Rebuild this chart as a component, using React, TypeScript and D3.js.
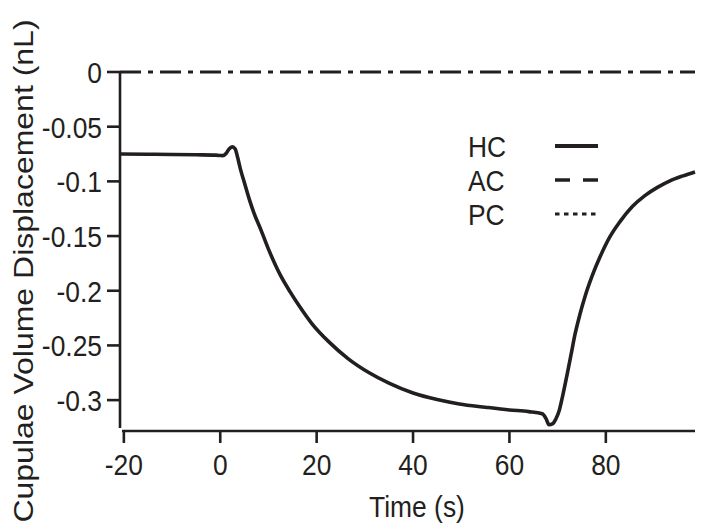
import React from "react";
import * as d3 from "d3";

const hcTime = [-20.8, -15, -10, -5, -1, 0, 0.5, 1.2, 1.8, 2.5, 3.1, 3.6, 4.2, 5, 6, 7, 8.5, 10.2, 12.5, 14.5, 16.4, 19, 22.6, 26.5, 30.9, 35, 40, 45, 49.6, 55, 60, 64, 66.8, 67.6, 68.2, 69.0, 69.6, 70.3, 71.0, 71.9, 72.8, 73.6, 74.6, 75.7, 77.2, 78.8, 80.8, 82.9, 85.5, 88.1, 90.7, 93.3, 96, 98.5];
const hcValue = [-0.075, -0.0752, -0.0754, -0.0757, -0.076, -0.0763, -0.0765, -0.0745, -0.0705, -0.0685, -0.0705, -0.078, -0.089, -0.101, -0.116, -0.129, -0.145, -0.164, -0.186, -0.201, -0.214, -0.23, -0.247, -0.262, -0.275, -0.2845, -0.2935, -0.2995, -0.3035, -0.3065, -0.309, -0.3105, -0.3125, -0.317, -0.3225, -0.3215, -0.3175, -0.31, -0.297, -0.278, -0.258, -0.24, -0.222, -0.205, -0.186, -0.169, -0.151, -0.137, -0.123, -0.113, -0.1055, -0.0995, -0.095, -0.0914];

const acTime = [-20.8, 98.5];
const acValue = [0, 0];
const pcTime = [-20.8, 98.5];
const pcValue = [0, 0];

const xTicks = [-20, 0, 20, 40, 60, 80];
const xTickLabels = ["-20", "0", "20", "40", "60", "80"];
const yTicks = [0, -0.05, -0.1, -0.15, -0.2, -0.25, -0.3];
const yTickLabels = ["0", "-0.05", "-0.1", "-0.15", "-0.2", "-0.25", "-0.3"];

const legendLabels = ["HC", "AC", "PC"];

const INK = "#231f20";
const FONT = "'Liberation Sans', Arial, Helvetica, sans-serif";

export default function App() {
  const x = d3.scaleLinear().domain([-20.8, 98.5]).range([120, 695]);
  const y = d3.scaleLinear().domain([-0.3255, 0]).range([428, 72]);

  const line = d3
    .line<[number, number]>()
    .x((d) => x(d[0]))
    .y((d) => y(d[1]))
    .curve(d3.curveMonotoneX);

  const hcData: [number, number][] = hcTime.map((t, i) => [t, hcValue[i]]);
  const acData: [number, number][] = acTime.map((t, i) => [t, acValue[i]]);
  const pcData: [number, number][] = pcTime.map((t, i) => [t, pcValue[i]]);

  const xAxisY = 431;
  const legendStyles = [
    { dash: "none", width: 4 },
    { dash: "15,13", width: 3.5 },
    { dash: "4.5,4.5", width: 3 },
  ];
  const legendBase = [157, 191, 225];

  return (
    <svg
      width={705}
      height={530}
      style={{ position: "fixed", left: 0, top: 0, background: "#fff" }}
      fontFamily={FONT}
    >
      <rect x={0} y={0} width={705} height={530} fill="#fff" />
      {/* zero line: AC and PC overlap */}
      <path d={line(acData) || ""} fill="none" stroke={INK} strokeWidth={3} strokeDasharray="21,7,5,7" />
      <path d={line(pcData) || ""} fill="none" stroke="none" />
      {/* HC curve */}
      <path d={line(hcData) || ""} fill="none" stroke={INK} strokeWidth={3.6} strokeLinejoin="round" />

      {/* Y axis */}
      <line x1={120} x2={120} y1={y(0) - 1} y2={y(-0.3255)} stroke={INK} strokeWidth={2.6} />
      {yTicks.map((v, i) => (
        <g key={"yt" + i}>
          <line x1={107} x2={120} y1={y(v)} y2={y(v)} stroke={INK} strokeWidth={2.6} />
          <text
            transform={`translate(102,${y(v) + 11}) scale(0.88,1)`}
            textAnchor="end"
            fontSize={30}
            fill={INK}
          >
            {yTickLabels[i]}
          </text>
        </g>
      ))}

      {/* X axis */}
      <line x1={122} x2={695} y1={xAxisY} y2={xAxisY} stroke={INK} strokeWidth={2.6} />
      {xTicks.map((v, i) => (
        <g key={"xt" + i}>
          <line x1={x(v)} x2={x(v)} y1={xAxisY} y2={xAxisY + 12} stroke={INK} strokeWidth={2.6} />
          <text
            transform={`translate(${x(v)},475) scale(0.88,1)`}
            textAnchor="middle"
            fontSize={30}
            fill={INK}
          >
            {xTickLabels[i]}
          </text>
        </g>
      ))}

      {/* Axis titles */}
      <text transform="translate(417,517) scale(0.88,1)" textAnchor="middle" fontSize={30} fill={INK}>
        Time (s)
      </text>
      <text
        transform="translate(33,271) scale(0.88,1) rotate(-90)"
        textAnchor="middle"
        fontSize={32}
        fill={INK}
      >
        Cupulae Volume Displacement (nL)
      </text>

      {/* Legend */}
      {legendLabels.map((lab, i) => (
        <g key={"lg" + i}>
          <text
            transform={`translate(468,${legendBase[i]}) scale(0.88,1)`}
            fontSize={30}
            fill={INK}
          >
            {lab}
          </text>
          <line
            x1={555}
            x2={598}
            y1={legendBase[i] - 11}
            y2={legendBase[i] - 11}
            stroke={INK}
            strokeWidth={legendStyles[i].width}
            strokeDasharray={legendStyles[i].dash}
          />
        </g>
      ))}
    </svg>
  );
}
